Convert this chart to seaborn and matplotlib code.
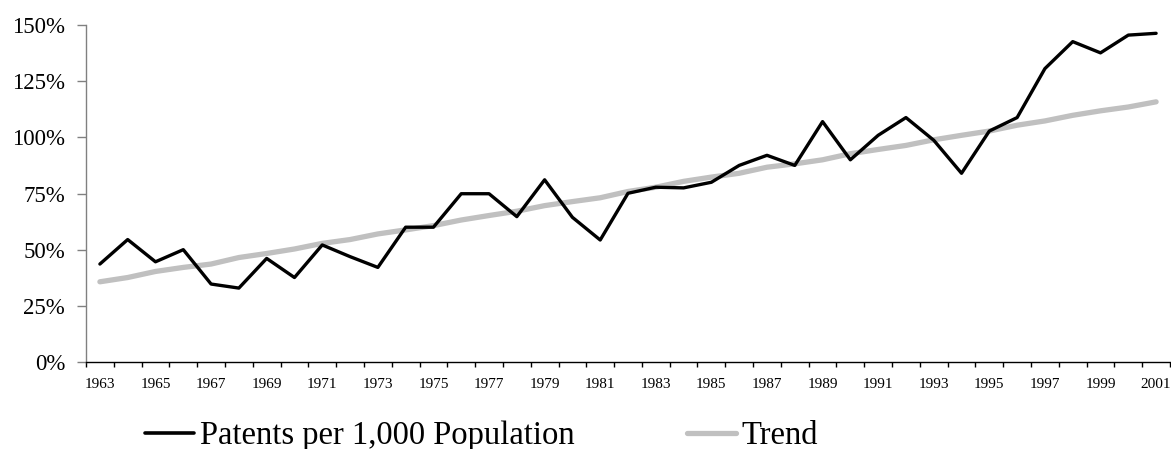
import matplotlib
matplotlib.use("Agg")
import matplotlib.pyplot as plt
import seaborn as sns
import pandas as pd
import numpy as np
from matplotlib.ticker import FixedLocator, FuncFormatter
from matplotlib.lines import Line2D

years = list(range(1963, 2002))
patents = [43.6, 54.5, 44.6, 50.0, 34.7, 32.9, 46.1, 37.6, 52.1, 46.9,
           42.1, 60.0, 60.0, 74.9, 74.9, 64.7, 81.1, 64.4, 54.3, 75.1,
           77.8, 77.5, 80.0, 87.5, 92.0, 87.5, 107.0, 90.0, 100.9, 108.8,
           98.7, 84.0, 102.8, 108.8, 130.6, 142.6, 137.6, 145.5, 146.3]
trend = [35.7, 37.6, 40.3, 42.1, 43.6, 46.5, 48.3, 50.3, 52.8, 54.5,
         57.0, 58.8, 60.7, 63.2, 65.2, 67.1, 69.6, 71.4, 73.1, 75.9,
         77.8, 80.4, 82.3, 84.0, 86.7, 88.2, 90.0, 92.7, 94.6, 96.4,
         98.9, 100.9, 102.8, 105.4, 107.3, 109.8, 111.8, 113.5, 115.8]
yticks = [0, 25, 50, 75, 100, 125, 150]
series_names = ["Patents per 1,000 Population", "Trend"]

sns.set_theme(style="white")
plt.rcParams['font.family'] = ['Liberation Serif', 'DejaVu Serif']
plt.rcParams['text.color'] = 'black'
plt.rcParams['xtick.color'] = 'black'
plt.rcParams['ytick.color'] = 'black'

df = pd.DataFrame({
    "pos": list(range(len(years))) * 2,
    "value": patents + trend,
    "series": [series_names[0]] * len(years) + [series_names[1]] * len(years),
})

fig = plt.figure(figsize=(11.71, 4.49), dpi=100)
ax = fig.add_axes([86 / 1171, 1 - 362 / 449, (1170 - 86) / 1171, (362 - 25) / 449])

sns.lineplot(data=df, x="pos", y="value", hue="series",
             palette={series_names[0]: "#000000", series_names[1]: "#c0c0c0"},
             ax=ax, legend=False, sort=False)
lines = ax.get_lines()
lines[0].set_linewidth(2.4)
lines[1].set_linewidth(3.8)
lines[1].set_zorder(1)
lines[0].set_zorder(2)

ax.set_xlim(-0.5, len(years) - 0.5)
ax.set_ylim(0, 150)
ax.set_xlabel("")
ax.set_ylabel("")

ax.yaxis.set_major_locator(FixedLocator(yticks))
ax.yaxis.set_major_formatter(FuncFormatter(lambda v, p: f"{int(v)}%"))
ax.tick_params(axis="y", which="major", left=True, length=6.5, width=1, color="#808080",
               labelsize=16.5, pad=8.5, labelcolor="black")

label_pos = list(range(0, len(years), 2))
ax.xaxis.set_major_locator(FixedLocator(label_pos))
ax.set_xticklabels([str(years[i]) for i in label_pos])
ax.xaxis.set_minor_locator(FixedLocator(np.arange(-0.5, len(years), 1.0)))
ax.tick_params(axis="x", which="major", bottom=False, length=0, labelsize=11, pad=11.5,
               labelcolor="black")
ax.tick_params(axis="x", which="minor", bottom=True, length=3.5, width=1, color="black")

for s in ["top", "right"]:
    ax.spines[s].set_visible(False)
ax.spines["left"].set_color("#808080")
ax.spines["left"].set_linewidth(1)
ax.spines["bottom"].set_color("black")
ax.spines["bottom"].set_linewidth(1)
ax.grid(False)

handles = [Line2D([], [], color="#000000", lw=2.6),
           Line2D([], [], color="#c0c0c0", lw=3.8)]
leg = fig.legend(handles, series_names,
                 loc="center left", bbox_to_anchor=(145 / 1171, 1 - 436 / 449),
                 ncol=2, frameon=False, fontsize=23.5, handlelength=1.5,
                 handletextpad=0.17, columnspacing=3.45, borderaxespad=0, borderpad=0)
for t in leg.get_texts():
    t.set_color("black")

fig.savefig("out.png", dpi=100)
